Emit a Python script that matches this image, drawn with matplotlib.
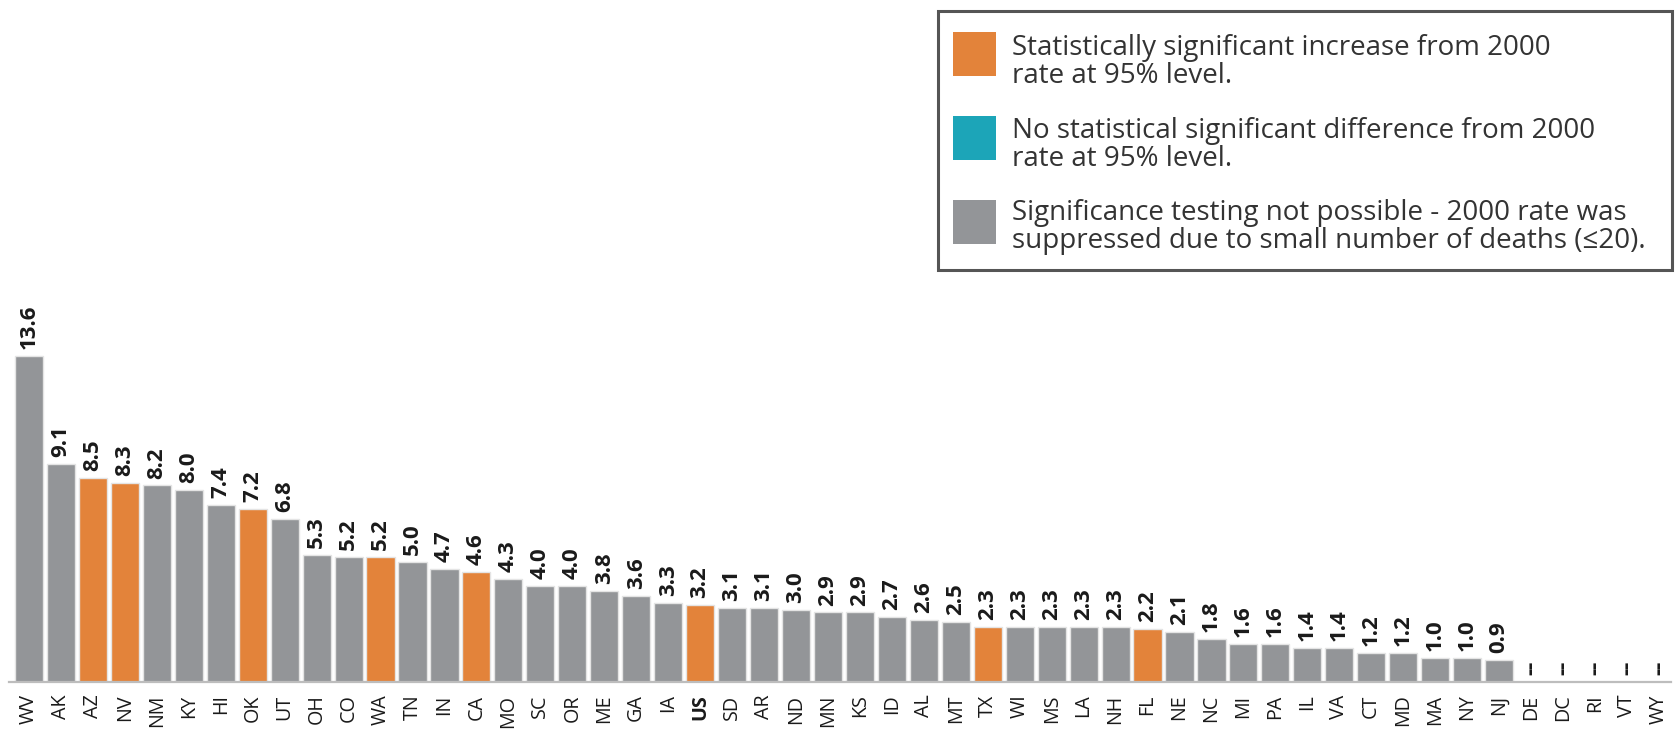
import matplotlib
matplotlib.use("Agg")
import matplotlib.pyplot as plt
from matplotlib.patches import Rectangle

plt.rcParams["font.family"] = ["Open Sans", "DejaVu Sans"]

# data
states = ["WV", "AK", "AZ", "NV", "NM", "KY", "HI", "OK", "UT", "OH", "CO", "WA",
          "TN", "IN", "CA", "MO", "SC", "OR", "ME", "GA", "IA", "US", "SD", "AR",
          "ND", "MN", "KS", "ID", "AL", "MT", "TX", "WI", "MS", "LA", "NH", "FL",
          "NE", "NC", "MI", "PA", "IL", "VA", "CT", "MD", "MA", "NY", "NJ",
          "DE", "DC", "RI", "VT", "WY"]
rates = [13.6, 9.1, 8.5, 8.3, 8.2, 8.0, 7.4, 7.2, 6.8, 5.3, 5.2, 5.2,
         5.0, 4.7, 4.6, 4.3, 4.0, 4.0, 3.8, 3.6, 3.3, 3.2, 3.1, 3.1,
         3.0, 2.9, 2.9, 2.7, 2.6, 2.5, 2.3, 2.3, 2.3, 2.3, 2.3, 2.2,
         2.1, 1.8, 1.6, 1.6, 1.4, 1.4, 1.2, 1.2, 1.0, 1.0, 0.9,
         None, None, None, None, None]
# "inc" = significant increase, "ns" = not possible to test
status = ["ns", "ns", "inc", "inc", "ns", "ns", "ns", "inc", "ns", "ns", "ns", "inc",
          "ns", "ns", "inc", "ns", "ns", "ns", "ns", "ns", "ns", "inc", "ns", "ns",
          "ns", "ns", "ns", "ns", "ns", "ns", "inc", "ns", "ns", "ns", "ns", "inc",
          "ns", "ns", "ns", "ns", "ns", "ns", "ns", "ns", "ns", "ns", "ns",
          "ns", "ns", "ns", "ns", "ns"]

legend_labels = [
    "Statistically significant increase from 2000\nrate at 95% level.",
    "No statistical significant difference from 2000\nrate at 95% level.",
    "Significance testing not possible - 2000 rate was\nsuppressed due to small number of deaths (\u226420).",
]

ORANGE = "#E3833A"
TEAL = "#1CA5B8"
GRAY = "#939598"
colors = {"inc": ORANGE, "nodiff": TEAL, "ns": GRAY}

W, H = 1676, 730
fig = plt.figure(figsize=(W / 100, H / 100), dpi=100)
ax = fig.add_axes([9 / W, 48 / H, (1671 - 9) / W, 682 / H])

xs = list(range(len(states)))
heights = [r if r is not None else 0 for r in rates]
ax.bar(xs, heights, width=0.88, color=[colors[s] for s in status],
       edgecolor="#e4e4e4", linewidth=1)

for x, r in zip(xs, rates):
    txt = f"{r:.1f}" if r is not None else "--"
    ax.annotate(txt, (x, r if r is not None else 0), xytext=(0, 5),
                textcoords="offset points", rotation=90, ha="center",
                va="bottom", fontsize=16, fontweight="bold", color="#1a1a1a")

ax.set_xlim(-0.626, 51.38)
ax.set_ylim(0, 682 / 23.97)
ax.set_xticks(xs)
ax.set_xticklabels(states, rotation=90, fontsize=14.2, color="#1a1a1a")
ax.tick_params(axis="x", length=0, pad=9)
ax.set_yticks([])
for lbl in ax.get_xticklabels():
    if lbl.get_text() == "US":
        lbl.set_fontweight("bold")
for side in ["top", "right", "left"]:
    ax.spines[side].set_visible(False)
ax.spines["bottom"].set_color("#bdbdbd")
ax.spines["bottom"].set_linewidth(1.6)


# legend box, drawn by hand in pixel coords (top-left origin)
def fx(px):
    return px / W


def fy(py):
    return 1 - py / H


fig.patches.append(Rectangle((fx(938), fy(270)), fx(1672) - fx(938), fy(11) - fy(270),
                             transform=fig.transFigure, facecolor="white",
                             edgecolor="#555555", linewidth=2.2))
legend_colors = [ORANGE, TEAL, GRAY]
patch_tops = [32, 116, 200]
baselines = [55, 138, 220]
for c, top, base, label in zip(legend_colors, patch_tops, baselines, legend_labels):
    fig.patches.append(Rectangle((fx(953), fy(top + 44)), fx(43), 44 / H,
                                 transform=fig.transFigure, facecolor=c,
                                 edgecolor="none"))
    for k, line in enumerate(label.split("\n")):
        fig.text(fx(1012), fy(base + 28 * k), line, fontsize=20,
                 color="#333333", ha="left", va="baseline")

fig.savefig("out.png", dpi=100)
